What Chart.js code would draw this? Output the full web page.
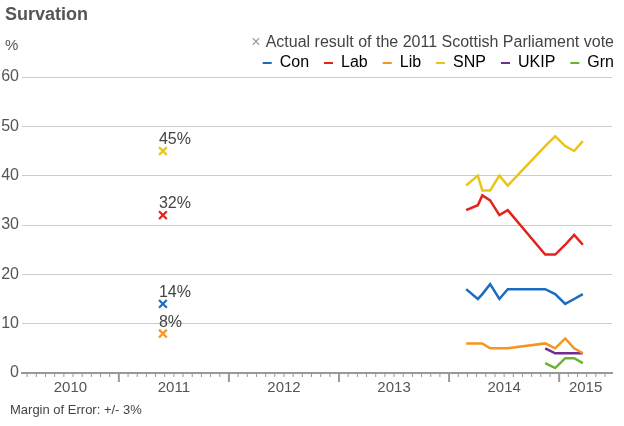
<!DOCTYPE html>
<html>
<head>
<meta charset="utf-8">
<title>Survation</title>
<script src="https://cdn.jsdelivr.net/npm/chart.js@4.4.1/dist/chart.umd.min.js"></script>
<style>
  html, body { margin: 0; padding: 0; background: #fff; overflow: hidden; }
</style>
</head>
<body>
<canvas id="survationChart" width="629" height="426"></canvas>
<script>
  // poll dates as decimal years
  const pollDates = [2014.155, 2014.261, 2014.302, 2014.373, 2014.457, 2014.533, 2014.873, 2014.964, 2015.055, 2015.136, 2015.215];
  const conPolls  = [17, 15, 16, 18, 15, 17, 17, 16, 14, 15, 16];
  const labPolls  = [33, 34, 36, 35, 32, 33, 24, 24, 26, 28, 26];
  const libPolls  = [6, 6, 6, 5, 5, 5, 6, 5, 7, 5, 4];
  const snpPolls  = [38, 40, 37, 37, 40, 38, 46, 48, 46, 45, 47];
  const ukipPolls = [null, null, null, null, null, null, 5, 4, 4, 4, 4];
  const grnPolls  = [null, null, null, null, null, null, 2, 1, 3, 3, 2];

  // 2011 Scottish Parliament result
  const electionDate = 2011.4;
  const electionParties = ['Con', 'Lab', 'Lib', 'SNP'];
  const electionResults = [14, 32, 8, 45];

  const yearLabels = [2010, 2011, 2012, 2013, 2014, 2015];
  const yTicks = [0, 10, 20, 30, 40, 50, 60];

  const partyNames = ['Con', 'Lab', 'Lib', 'SNP', 'UKIP', 'Grn'];
  const series = { Con: conPolls, Lab: labPolls, Lib: libPolls, SNP: snpPolls, UKIP: ukipPolls, Grn: grnPolls };
  const colours = { Con: '#1b6cc0', Lab: '#e2231b', Lib: '#f7941e', SNP: '#e9c51c', UKIP: '#6f2d91', Grn: '#6bb32e' };

  const FONT = "'Liberation Sans', Arial, sans-serif";
  Chart.defaults.font.family = FONT;
  Chart.defaults.color = '#555';

  const lineSets = partyNames.map(name => ({
    label: name,
    data: pollDates.map((d, i) => ({ x: d, y: series[name][i] })),
    borderColor: colours[name],
    backgroundColor: colours[name],
    borderWidth: 2.5,
    pointRadius: 0,
    tension: 0
  }));

  const resultSet = {
    label: 'Actual result of the 2011 Scottish Parliament vote',
    data: electionResults.map(v => ({ x: electionDate, y: v })),
    showLine: false,
    pointStyle: 'crossRot',
    pointRadius: 5.5,
    pointBorderWidth: 2.2,
    pointBorderColor: electionParties.map(p => colours[p]),
    borderColor: '#999'
  };

  // title, header key, % sign, axis tick marks, value labels and footer
  const extras = {
    id: 'extras',
    afterDraw(chart) {
      const { ctx, chartArea, scales: { x } } = chart;
      ctx.save();

      ctx.strokeStyle = '#999';
      for (let yr = Math.floor(x.min); yr <= Math.ceil(x.max); yr++) {
        for (let m = 0; m < 12; m++) {
          const v = yr + m / 12;
          if (v < x.min || v > x.max) continue;
          const px = x.getPixelForValue(v);
          ctx.lineWidth = m === 0 ? 2 : 1;
          ctx.beginPath();
          ctx.moveTo(px, x.top);
          ctx.lineTo(px, x.top + (m === 0 ? 9 : 4));
          ctx.stroke();
        }
      }

      ctx.textBaseline = 'middle';
      ctx.textAlign = 'left';
      ctx.font = 'bold 18px ' + FONT;
      ctx.fillStyle = '#555';
      ctx.fillText('Survation', 5, 15);

      ctx.font = '15px ' + FONT;
      ctx.fillText('%', 5, chartArea.top - 31);

      ctx.font = '16px ' + FONT;
      ctx.textAlign = 'right';
      ctx.fillStyle = '#444';
      const keyText = 'Actual result of the 2011 Scottish Parliament vote';
      ctx.fillText(keyText, 614, 43);
      const w = ctx.measureText(keyText).width;
      ctx.fillStyle = '#999';
      ctx.fillText('\u00d7', 614 - w - 5, 43);

      ctx.textAlign = 'left';
      ctx.textBaseline = 'alphabetic';
      ctx.fillStyle = '#444';
      const meta = chart.getDatasetMeta(chart.data.datasets.length - 1);
      meta.data.forEach((pt, i) => {
        ctx.fillText(electionResults[i] + '%', pt.x - 4, pt.y - 7);
      });

      ctx.font = '13px ' + FONT;
      ctx.textBaseline = 'middle';
      ctx.fillText('Margin of Error: +/- 3%', 10, 410);
      ctx.restore();
    }
  };

  new Chart(document.getElementById('survationChart'), {
    type: 'line',
    data: { datasets: [...lineSets, resultSet] },
    plugins: [extras],
    options: {
      responsive: false,
      animation: false,
      events: [],
      layout: { padding: { left: 0, right: 0, top: 40, bottom: 0 } },
      scales: {
        x: {
          type: 'linear',
          min: 2010.12,
          max: 2015.48,
          afterBuildTicks: s => {
            s.ticks = yearLabels.map(yr => ({ value: (Math.max(yr, s.min) + Math.min(yr + 1, s.max)) / 2 }));
          },
          afterFit: s => { s.height = 53; },
          ticks: {
            callback: v => String(Math.floor(v)),
            color: '#555',
            font: { size: 15 },
            padding: 6,
            autoSkip: false,
            maxRotation: 0
          },
          grid: { display: false, drawTicks: false },
          border: { display: true, color: '#999', width: 2 }
        },
        y: {
          min: 0,
          max: 60,
          afterBuildTicks: s => { s.ticks = yTicks.map(v => ({ value: v })); },
          afterFit: s => { s.width = 22; },
          ticks: { color: '#555', font: { size: 16 }, padding: 3 },
          grid: { color: ctx => ctx.tick && ctx.tick.value === 0 ? 'rgba(0,0,0,0)' : '#cccccc', drawTicks: false },
          border: { display: false }
        },
        yRight: {
          position: 'right',
          afterFit: s => { s.width = 17; },
          ticks: { display: false },
          grid: { display: false },
          border: { display: false }
        }
      },
      plugins: {
        title: { display: false },
        legend: {
          position: 'top',
          align: 'end',
          maxHeight: 37,
          labels: {
            boxWidth: 9,
            boxHeight: 2,
            padding: 15,
            color: '#444',
            font: { size: 16 },
            generateLabels: chart => chart.data.datasets
              .map((ds, i) => ({ text: ds.label, fillStyle: ds.borderColor, strokeStyle: ds.borderColor, lineWidth: 0, hidden: false, datasetIndex: i }))
              .filter(item => item.datasetIndex < partyNames.length)
          }
        },
        tooltip: { enabled: false }
      }
    }
  });
</script>
</body>
</html>
